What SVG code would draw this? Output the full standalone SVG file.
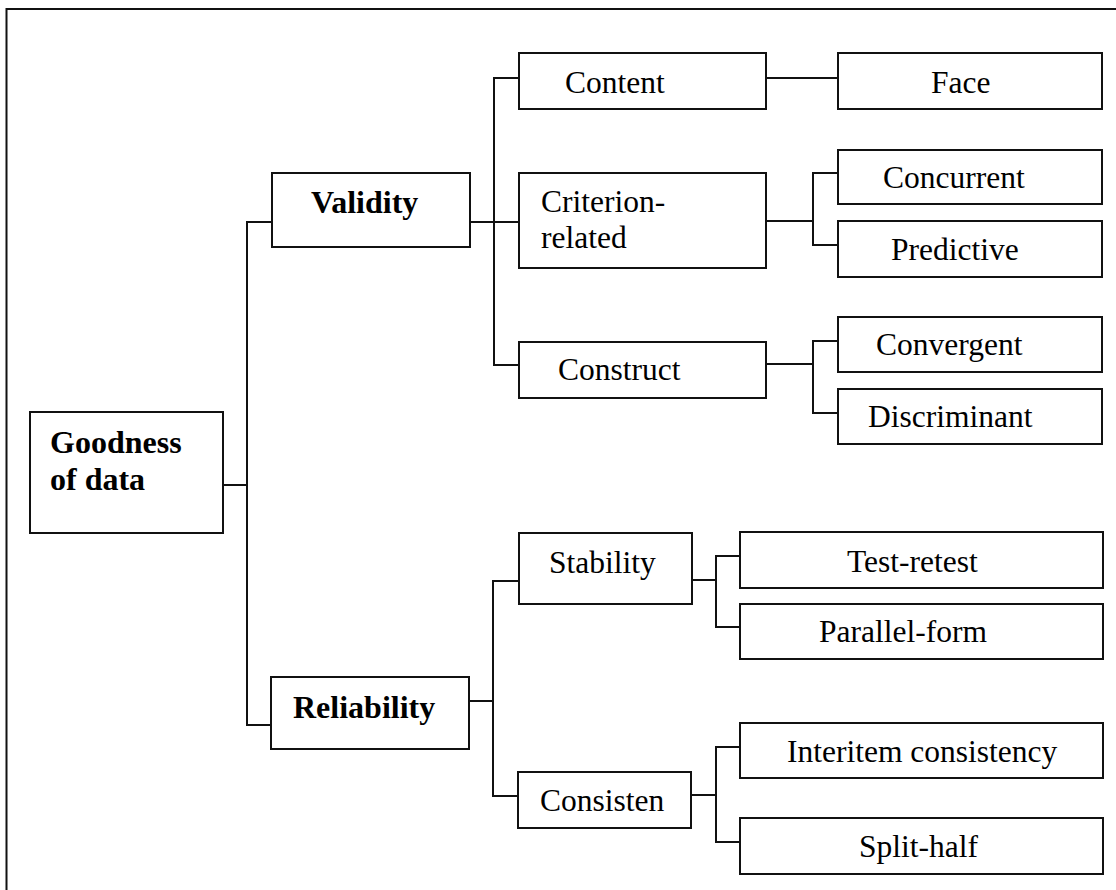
<svg xmlns="http://www.w3.org/2000/svg" width="1116" height="890" viewBox="0 0 1116 890">
<style>
.box{fill:#fff;stroke:#111;stroke-width:2}
.ln{fill:none;stroke:#111;stroke-width:2}
text{font-family:"Liberation Serif","Times New Roman",serif;font-size:31.5px;fill:#000}
.b{font-weight:bold;font-size:32px}
</style>
<rect width="1116" height="890" fill="#fff"/>
<path class="ln" d="M6.5 890 V9 H1116"/>
<g id="connectors">
<path class="ln" d="M223 485 H247"/>
<path class="ln" d="M272 222 H247 V725 H271"/>
<path class="ln" d="M470 222 H519"/>
<path class="ln" d="M519 78 H494 V365 H519"/>
<path class="ln" d="M766 78 H838"/>
<path class="ln" d="M766 221 H813"/>
<path class="ln" d="M838 173 H813 V245 H838"/>
<path class="ln" d="M766 364 H813"/>
<path class="ln" d="M838 341 H813 V413 H838"/>
<path class="ln" d="M469 701 H493"/>
<path class="ln" d="M519 581 H493 V796 H518"/>
<path class="ln" d="M692 580 H716"/>
<path class="ln" d="M740 556 H716 V627 H740"/>
<path class="ln" d="M691 795 H716"/>
<path class="ln" d="M740 747 H716 V842 H740"/>
</g>
<g id="goodness"><rect class="box" x="30" y="412" width="193" height="121"/><text class="b" x="50" y="453">Goodness</text><text class="b" x="50" y="490">of data</text></g>
<g id="validity"><rect class="box" x="272" y="173" width="198" height="74"/><text class="b" x="311" y="213">Validity</text></g>
<g id="reliability"><rect class="box" x="271" y="677" width="198" height="72"/><text class="b" x="293" y="718">Reliability</text></g>
<g id="content"><rect class="box" x="519" y="53" width="247" height="56"/><text x="565" y="93">Content</text></g>
<g id="criterion"><rect class="box" x="519" y="173" width="247" height="95"/><text x="541" y="212">Criterion-</text><text x="541" y="248">related</text></g>
<g id="construct"><rect class="box" x="519" y="342" width="247" height="56"/><text x="558" y="380">Construct</text></g>
<g id="face"><rect class="box" x="838" y="53" width="264" height="56"/><text x="931" y="93">Face</text></g>
<g id="concurrent"><rect class="box" x="838" y="150" width="264" height="54"/><text x="883" y="188">Concurrent</text></g>
<g id="predictive"><rect class="box" x="838" y="221" width="264" height="56"/><text x="891" y="260">Predictive</text></g>
<g id="convergent"><rect class="box" x="838" y="317" width="264" height="55"/><text x="876" y="355">Convergent</text></g>
<g id="discriminant"><rect class="box" x="838" y="389" width="264" height="55"/><text x="868" y="427">Discriminant</text></g>
<g id="stability"><rect class="box" x="519" y="533" width="173" height="71"/><text x="549" y="573">Stability</text></g>
<g id="consisten"><rect class="box" x="518" y="772" width="173" height="56"/><text x="540" y="811">Consisten</text></g>
<g id="testretest"><rect class="box" x="740" y="532" width="363" height="56"/><text x="847" y="572">Test-retest</text></g>
<g id="parallelform"><rect class="box" x="740" y="604" width="363" height="55"/><text x="819" y="642">Parallel-form</text></g>
<g id="interitem"><rect class="box" x="740" y="723" width="363" height="55"/><text x="787" y="762">Interitem consistency</text></g>
<g id="splithalf"><rect class="box" x="740" y="818" width="363" height="56"/><text x="859" y="857">Split-half</text></g>
</svg>
